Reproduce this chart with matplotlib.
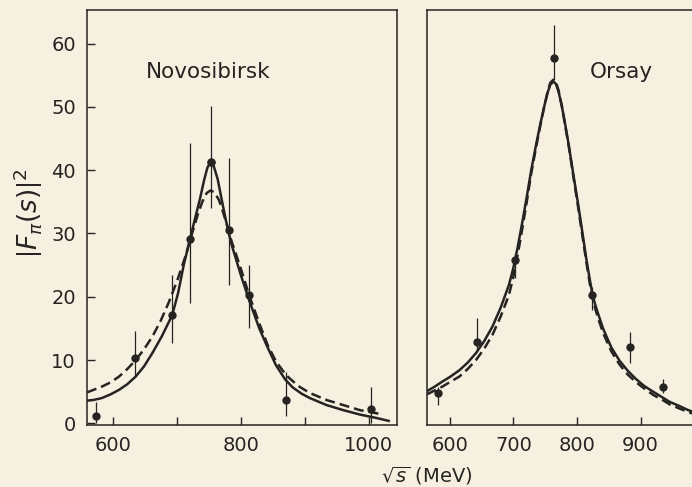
import matplotlib
matplotlib.use("Agg")
import matplotlib.pyplot as plt

BG = "#f6f0e0"
INK = "#262422"

# ---------------- Novosibirsk (left panel) ----------------
nov_x = [574, 635, 693, 721, 754, 782, 813, 870, 1003]
nov_y = [1.2, 10.4, 17.1, 29.2, 41.3, 30.6, 20.3, 3.7, 2.3]
nov_err_lo = [1.2, 3.0, 4.4, 10.2, 7.2, 8.7, 5.3, 2.6, 2.3]
nov_err_hi = [2.2, 4.2, 6.3, 15.1, 8.8, 11.3, 4.7, 4.5, 3.5]

nov_solid_x = [560, 570, 583, 597, 610, 623, 636, 649, 662, 677, 693, 702, 711, 721,
               729, 736, 743, 748, 753, 758, 764, 770, 777, 785, 800, 813, 829, 842,
               855, 869, 881, 895, 908, 934, 960, 986, 1010, 1031]
nov_solid_y = [3.6, 3.7, 4.0, 4.6, 5.3, 6.2, 7.4, 9.0, 11.1, 13.8, 17.1, 20.5, 25.0, 29.2,
               32.5, 35.3, 38.5, 40.4, 41.3, 40.6, 38.6, 35.5, 32.0, 28.5, 23.5, 19.5, 15.0, 12.0,
               9.2, 7.0, 5.7, 4.7, 4.0, 2.9, 2.1, 1.4, 0.9, 0.4]
nov_dash_x = [560, 583, 597, 610, 623, 636, 649, 662, 675, 688, 701, 714, 724, 733,
              740, 747, 753, 759, 766, 772, 779, 785, 800, 813, 829, 842, 855, 871,
              890, 908, 934, 960, 986, 1020]
nov_dash_y = [4.9, 5.8, 6.5, 7.4, 8.6, 10.0, 11.7, 13.7, 16.2, 19.2, 22.6, 26.5, 30.0, 33.0,
              35.0, 36.4, 36.8, 36.5, 35.3, 33.5, 31.2, 29.0, 24.5, 20.3, 15.8, 12.4, 9.8, 7.6,
              5.9, 4.8, 3.7, 2.9, 2.1, 1.45]

# ---------------- Orsay (right panel) ----------------
ors_x = [581, 642, 703, 764, 824, 884, 936]
ors_y = [4.8, 12.9, 25.8, 57.7, 20.3, 12.0, 5.7]
ors_err_lo = [1.9, 1.5, 2.9, 3.5, 2.4, 2.5, 0.9]
ors_err_hi = [1.0, 3.7, 1.1, 5.2, 1.3, 2.5, 1.3]

ors_curve_x = [564, 576, 588, 601, 615, 628, 641, 654, 667, 680, 693, 700, 707, 714,
               721, 728, 736, 743, 749, 754, 758, 763, 767, 771, 776, 781, 787, 794,
               802, 808, 815, 820, 824, 828, 832, 841, 854, 867, 880, 893, 906, 920,
               933, 946, 960, 975, 990]
ors_solid_y = [5.1, 5.8, 6.6, 7.4, 8.4, 9.6, 11.1, 13.0, 15.3, 18.3, 21.9, 24.6, 28.0, 31.8,
               35.8, 40.0, 44.2, 47.6, 50.3, 52.3, 53.5, 54.0, 53.6, 52.4, 50.2, 47.5, 44.0, 39.5,
               34.5, 30.5, 25.8, 22.8, 20.6, 19.0, 17.7, 15.0, 12.0, 9.9, 8.3, 7.0, 5.9, 5.0,
               4.2, 3.4, 2.8, 2.1, 1.6]
ors_dash_y = [4.6, 5.2, 5.8, 6.6, 7.4, 8.6, 10.0, 11.8, 14.0, 16.9, 20.3, 23.2, 26.8, 30.8,
              35.0, 39.5, 43.8, 47.4, 50.3, 52.5, 53.8, 54.3, 53.9, 52.6, 50.2, 47.3, 43.8, 39.2,
              34.0, 30.0, 25.3, 22.2, 20.0, 18.4, 17.0, 14.3, 11.4, 9.3, 7.7, 6.5, 5.5, 4.5,
              3.8, 3.0, 2.4, 1.8, 1.3]

plt.rcParams["font.family"] = "DejaVu Sans"
fig = plt.figure(figsize=(6.92, 4.87), dpi=100, facecolor=BG)

ax1 = fig.add_axes([87 / 692, 1 - 425 / 487, 310 / 692, 415 / 487], facecolor=BG)
ax2 = fig.add_axes([427 / 692, 1 - 425 / 487, 272 / 692, 415 / 487], facecolor=BG)

for ax in (ax1, ax2):
    ax.set_ylim(-0.25, 65.3)
    for s in ax.spines.values():
        s.set_color(INK)
        s.set_linewidth(1.1)
    ax.tick_params(direction="in", length=6, width=1.0, color=INK,
                   labelsize=14, labelcolor=INK, pad=8)

# left panel
ax1.set_xlim(560, 1044)
ax1.plot(nov_solid_x, nov_solid_y, color=INK, lw=1.8)
ax1.plot(nov_dash_x, nov_dash_y, color=INK, lw=1.8, dashes=(4, 2))
ax1.errorbar(nov_x, nov_y, yerr=[nov_err_lo, nov_err_hi], fmt="o", ms=5,
             color=INK, ecolor=INK, elinewidth=0.9, capsize=0)
ax1.plot([nov_x[4]], [nov_y[4]], "o", ms=5, mfc="#b8b2a6", mec=INK, mew=0.8)
ax1.set_xticks([600, 700, 800, 900, 1000])
ax1.set_xticklabels(["600", "", "800", "", "1000"])
ax1.set_yticks([0, 10, 20, 30, 40, 50, 60])
ax1.text(749, 55.5, "Novosibirsk", ha="center", va="center", fontsize=15.5, color=INK)

# right panel
ax2.set_xlim(564, 992)
ax2.plot(ors_curve_x, ors_solid_y, color=INK, lw=1.8)
ax2.plot(ors_curve_x, ors_dash_y, color=INK, lw=1.8, dashes=(4, 2))
ax2.errorbar(ors_x, ors_y, yerr=[ors_err_lo, ors_err_hi], fmt="o", ms=5,
             color=INK, ecolor=INK, elinewidth=0.9, capsize=0)
ax2.set_xticks([600, 700, 800, 900])
ax2.set_yticks([])
ax2.spines["right"].set_visible(False)
ax2.text(870, 55.5, "Orsay", ha="center", va="center", fontsize=15.5, color=INK)

fig.text(27 / 692, 1 - 213 / 487, r"$\left|F_{\pi}(s)\right|^2$", rotation=90,
         ha="center", va="center", fontsize=19, color=INK)
fig.text(427 / 692, 1 - 476 / 487, r"$\sqrt{s}$ (MeV)", ha="center", va="center",
         fontsize=14, color=INK)

fig.savefig("out.png", dpi=100, facecolor=BG)
